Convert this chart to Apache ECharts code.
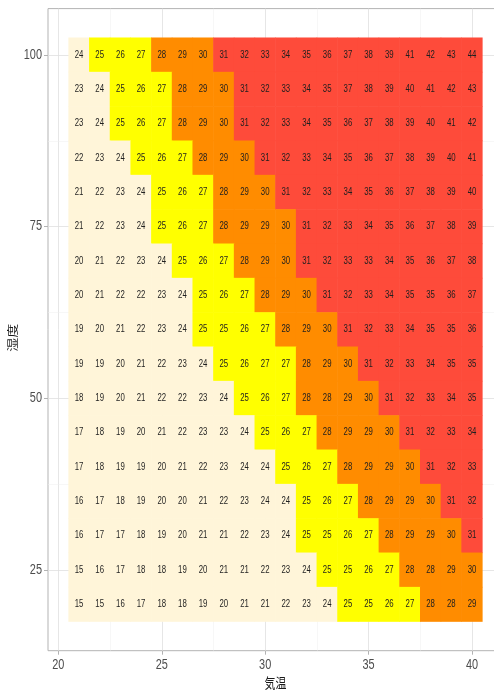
<!DOCTYPE html>
<html><head><meta charset="utf-8">
<script src="https://cdn.jsdelivr.net/npm/echarts@6/dist/echarts.min.js"></script>
<style>html,body{margin:0;padding:0;background:#fff}#c{width:494px;height:691px}</style>
</head><body><div id="c"></div>
<script>
// temperatures (x) and humidities (y)
var temps = [21,22,23,24,25,26,27,28,29,30,31,32,33,34,35,36,37,38,39,40];
var humid = [100,95,90,85,80,75,70,65,60,55,50,45,40,35,30,25,20];
// discomfort index per humidity row (left to right = temps)
var di100 = [24,25,26,27,28,29,30,31,32,33,34,35,36,37,38,39,41,42,43,44];
var di95  = [23,24,25,26,27,28,29,30,31,32,33,34,35,37,38,39,40,41,42,43];
var di90  = [23,24,25,26,27,28,29,30,31,32,33,34,35,36,37,38,39,40,41,42];
var di85  = [22,23,24,25,26,27,28,29,30,31,32,33,34,35,36,37,38,39,40,41];
var di80  = [21,22,23,24,25,26,27,28,29,30,31,32,33,34,35,36,37,38,39,40];
var di75  = [21,22,23,24,25,26,27,28,29,29,30,31,32,33,34,35,36,37,38,39];
var di70  = [20,21,22,23,24,25,26,27,28,29,30,31,32,33,33,34,35,36,37,38];
var di65  = [20,21,22,22,23,24,25,26,27,28,29,30,31,32,33,34,35,35,36,37];
var di60  = [19,20,21,22,23,24,25,25,26,27,28,29,30,31,32,33,34,35,35,36];
var di55  = [19,19,20,21,22,23,24,25,26,27,27,28,29,30,31,32,33,34,35,35];
var di50  = [18,19,20,21,22,22,23,24,25,26,27,28,28,29,30,31,32,33,34,35];
var di45  = [17,18,19,20,21,22,23,23,24,25,26,27,28,29,29,30,31,32,33,34];
var di40  = [17,18,19,19,20,21,22,23,24,24,25,26,27,28,29,29,30,31,32,33];
var di35  = [16,17,18,19,20,20,21,22,23,24,24,25,26,27,28,29,29,30,31,32];
var di30  = [16,17,17,18,19,20,21,21,22,23,24,25,25,26,27,28,29,29,30,31];
var di25  = [15,16,17,18,18,19,20,21,21,22,23,24,25,25,26,27,28,28,29,30];
var di20  = [15,15,16,17,18,18,19,20,21,21,22,23,24,25,25,26,27,28,28,29];
var rows = [di100,di95,di90,di85,di80,di75,di70,di65,di60,di55,di50,di45,di40,di35,di30,di25,di20];
// colour classes: < 25, 25-27, 28-30, >= 31
var breaks = [25, 28, 31];
var classColors = ['#FFF5D9', '#FFFF00', '#FF8C00', '#FE4B3A'];
var xTicks = [20,25,30,35,40];
var yTicks = [25,50,75,100];
var xMinor = [22.5,27.5,32.5,37.5];
var yMinor = [37.5,62.5,87.5];
var xTitle = '気温';
var yTitle = '湿度';

var data = [];
humid.forEach(function(h, i){ temps.forEach(function(t, j){ data.push([t, h, rows[i][j]]); }); });
function colorOf(v){ var k = 0; while (k < breaks.length && v >= breaks[k]) k++; return classColors[k]; }

var FONT = '"Liberation Sans", Arial, sans-serif';
var SQ = 0.78; // horizontal squeeze of the reference's text
var X0 = 19.5, X1 = 41.5, Y0 = 13.25, Y1 = 106.75;
var gl = [];
xTicks.forEach(function(v){ gl.push({xAxis: v, lineStyle:{color:'#e0e0e0', width:0.8, type:'solid'}}); });
xMinor.forEach(function(v){ gl.push({xAxis: v, lineStyle:{color:'#efefef', width:0.5, type:'solid'}}); });
yTicks.forEach(function(v){ gl.push({yAxis: v, lineStyle:{color:'#e0e0e0', width:0.8, type:'solid'}}); });
yMinor.forEach(function(v){ gl.push({yAxis: v, lineStyle:{color:'#efefef', width:0.5, type:'solid'}}); });

var chart = echarts.init(document.getElementById('c'), null, {renderer:'canvas'});
chart.setOption({
  animation: false,
  backgroundColor: '#ffffff',
  grid: {left: 48, top: 8.6, right: -9, bottom: 40.3, show: true, borderColor: '#b3b3b3', borderWidth: 1, backgroundColor: 'transparent', containLabel: false, outerBoundsMode: 'none'},
  xAxis: {
    type: 'value', min: X0, max: X1,
    axisLine: {show: false},
    axisTick: {show: true, length: 4, lineStyle: {color: '#b3b3b3'}, customValues: xTicks},
    axisLabel: {show: false, customValues: xTicks},
    splitLine: {show: false}
  },
  yAxis: {
    type: 'value', min: Y0, max: Y1,
    axisLine: {show: false},
    axisTick: {show: true, length: 4, lineStyle: {color: '#b3b3b3'}, customValues: yTicks},
    axisLabel: {show: false, customValues: yTicks},
    splitLine: {show: false}
  },
  series: [{
    type: 'custom',
    z: 2,
    data: data,
    encode: {x: 0, y: 1},
    renderItem: function(params, api){
      var c = api.coord([api.value(0), api.value(1)]);
      var s = api.size([1, 5]);
      var v = api.value(2);
      return {
        type: 'group',
        children: [
          {type: 'rect', shape: {x: c[0] - s[0]/2 - 0.3, y: c[1] - s[1]/2 - 0.3, width: s[0] + 0.6, height: s[1] + 0.6}, style: {fill: colorOf(v)}},
          {type: 'text', x: c[0], y: c[1], scaleX: SQ, style: {text: String(v), fontFamily: FONT, fontSize: 10, fill: '#1f1f1f', align: 'center', verticalAlign: 'middle'}, z2: 10}
        ]
      };
    },
    markLine: {silent: true, z: 1, symbol: 'none', label: {show: false}, animation: false, lineStyle: {type: 'solid'}, data: gl}
  }]
});

// tick labels and axis titles, positioned through the chart's own scales
var els = [];
xTicks.forEach(function(v){
  var p = chart.convertToPixel({gridIndex: 0}, [v, Y0]);
  els.push({type: 'text', x: p[0], y: p[1] + 7, scaleX: SQ, style: {text: String(v), fontFamily: FONT, fontSize: 14, fill: '#4d4d4d', align: 'center', verticalAlign: 'top'}});
});
yTicks.forEach(function(v){
  var p = chart.convertToPixel({gridIndex: 0}, [X0, v]);
  els.push({type: 'text', x: p[0] - 6, y: p[1], scaleX: SQ, style: {text: String(v), fontFamily: FONT, fontSize: 14, fill: '#4d4d4d', align: 'right', verticalAlign: 'middle'}});
});
var pBL = chart.convertToPixel({gridIndex: 0}, [X0, Y0]);
var pTR = chart.convertToPixel({gridIndex: 0}, [X1, Y1]);
els.push({type: 'text', x: (pBL[0] + pTR[0]) / 2, y: pBL[1] + 25, scaleX: SQ, style: {text: xTitle, fontFamily: '"Noto Sans CJK JP", sans-serif', fontSize: 14, fill: '#1a1a1a', align: 'center', verticalAlign: 'top'}});
els.push({type: 'text', x: 13, y: (pBL[1] + pTR[1]) / 2 + 8, rotation: Math.PI / 2, scaleY: SQ, style: {text: yTitle, fontFamily: '"Noto Sans CJK JP", sans-serif', fontSize: 14, fill: '#1a1a1a', align: 'center', verticalAlign: 'middle'}});
chart.setOption({graphic: {elements: els}});
</script></body></html>
